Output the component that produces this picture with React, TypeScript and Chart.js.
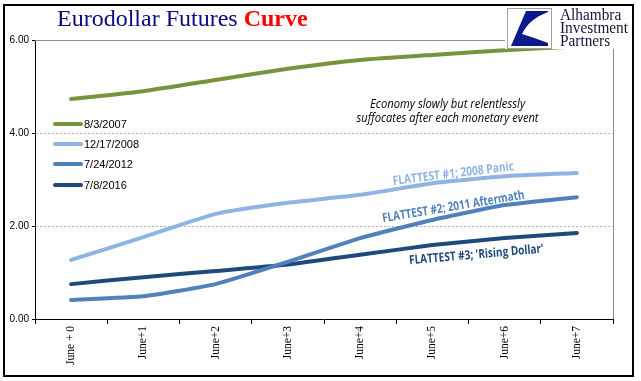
import React, { useEffect, useRef } from "react";
import { Chart, registerables } from "chart.js";

Chart.register(...registerables);

const categories = ["June + 0", "June+1", "June+2", "June+3", "June+4", "June+5", "June+6", "June+7"];
const seriesNames = ["8/3/2007", "12/17/2008", "7/24/2012", "7/8/2016"];
const s2007 = [4.73, 4.9, 5.14, 5.38, 5.57, 5.68, 5.78, 5.86];
const s2008 = [1.27, 1.76, 2.26, 2.5, 2.67, 2.92, 3.07, 3.14];
const s2012 = [0.41, 0.49, 0.75, 1.23, 1.74, 2.13, 2.45, 2.62];
const s2016 = [0.75, 0.9, 1.03, 1.17, 1.38, 1.59, 1.74, 1.85];
const seriesColors = ["#77933C", "#8EB4E3", "#4F81BD", "#1F497D"];
const yTicks = [0, 2, 4, 6];

const noteLines = [
  { text: "Economy slowly but relentlessly", y: 4.62, w: 155 },
  { text: "suffocates after each monetary event", y: 4.3, w: 182 },
];
const flatLabels = [
  { text: "FLATTEST #1; 2008 Panic", color: "#8EB4E3", x: 5.29, y: 3.12, angle: -7, w: 122 },
  { text: "FLATTEST #2; 2011 Aftermath", color: "#4F81BD", x: 5.29, y: 2.41, angle: -9.5, w: 144 },
  { text: "FLATTEST #3; 'Rising Dollar'", color: "#1F497D", x: 5.61, y: 1.38, angle: -5, w: 135 },
];

function fitText(ctx: any, text: string, x: number, y: number, angle: number, w: number) {
  const m = ctx.measureText(text).width;
  ctx.save();
  ctx.translate(x, y);
  ctx.rotate((angle * Math.PI) / 180);
  ctx.scale(w / m, 1);
  ctx.fillText(text, 0, 0);
  ctx.restore();
}

const decorPlugin = {
  id: "decor",
  beforeDatasetsDraw(chart: any) {
    const { ctx, chartArea } = chart;
    ctx.save();
    ctx.strokeStyle = "#8c8c8c";
    ctx.lineWidth = 1;
    ctx.beginPath();
    ctx.moveTo(chartArea.left, chartArea.top + 0.5);
    ctx.lineTo(chartArea.right + 0.5, chartArea.top + 0.5);
    ctx.lineTo(chartArea.right + 0.5, chartArea.bottom);
    ctx.stroke();
    ctx.restore();
  },
  afterDatasetsDraw(chart: any) {
    const { ctx, chartArea, scales } = chart;
    const xs = scales.x;
    const ys = scales.y;
    ctx.save();
    // legend
    const rowY = [84, 104, 124, 145];
    chart.data.datasets.forEach((ds: any, i: number) => {
      const y = chartArea.top + rowY[i];
      const x0 = chartArea.left + 20;
      ctx.strokeStyle = ds.borderColor;
      ctx.lineWidth = 4;
      ctx.lineCap = "round";
      ctx.beginPath();
      ctx.moveTo(x0, y);
      ctx.lineTo(x0 + 26, y);
      ctx.stroke();
      ctx.fillStyle = "#000";
      ctx.font = "11px 'Liberation Sans', Arial, sans-serif";
      ctx.textAlign = "left";
      ctx.textBaseline = "middle";
      ctx.fillText(ds.label, x0 + 29, y + 0.5);
    });
    // note
    ctx.font = "italic 12px 'Open Sans', sans-serif";
    ctx.fillStyle = "#000";
    ctx.textAlign = "center";
    ctx.textBaseline = "middle";
    const nx = xs.getPixelForValue(5.21);
    noteLines.forEach((n) => fitText(ctx, n.text, nx, ys.getPixelForValue(n.y), 0, n.w));
    // flattest labels
    ctx.font = "bold 12.5px 'Open Sans', sans-serif";
    flatLabels.forEach((l) => {
      ctx.fillStyle = l.color;
      fitText(ctx, l.text, xs.getPixelForValue(l.x), ys.getPixelForValue(l.y), l.angle, l.w);
    });
    ctx.restore();
  },
};

export default function App() {
  const ref = useRef<HTMLCanvasElement>(null);
  useEffect(() => {
    document.body.style.margin = "0";
    const series = [s2007, s2008, s2012, s2016];
    const chart = new Chart(ref.current as HTMLCanvasElement, {
      type: "line",
      data: {
        labels: categories,
        datasets: series.map((d, i) => ({
          label: seriesNames[i],
          data: d,
          borderColor: seriesColors[i],
          backgroundColor: seriesColors[i],
          borderWidth: 4,
          pointRadius: 0,
          tension: 0.15,
          borderCapStyle: "round" as const,
          borderJoinStyle: "round" as const,
        })),
      },
      options: {
        animation: false,
        responsive: false,
        maintainAspectRatio: false,
        layout: { padding: { left: 0, right: 28, top: 40, bottom: 0 } },
        plugins: { legend: { display: false }, tooltip: { enabled: false } },
        scales: {
          x: {
            type: "category",
            offset: true,
            grid: { offset: true, drawOnChartArea: false, drawTicks: true, tickLength: 5, tickColor: "#000" },
            border: { color: "#000", width: 1 },
            ticks: {
              minRotation: 90,
              maxRotation: 90,
              autoSkip: false,
              color: "#000",
              padding: 2,
              font: { family: "'Liberation Serif', 'Times New Roman', serif", size: 11.5 },
            },
            afterFit: (s: any) => {
              s.height = 62;
            },
          },
          y: {
            min: 0,
            max: 6,
            afterBuildTicks: (s: any) => {
              s.ticks = yTicks.map((v) => ({ value: v }));
            },
            ticks: {
              color: "#000",
              padding: 3,
              callback: (v: any) => Number(v).toFixed(2),
              font: { family: "'Liberation Sans', Arial, sans-serif", size: 10 },
            },
            grid: {
              color: (c: any) => (c.tick && (c.tick.value === 0 || c.tick.value === 6) ? "rgba(0,0,0,0)" : "#b4b4b4"),
              tickColor: "#000",
              tickLength: 3,
              tickBorderDash: [],
              lineWidth: 1,
            },
            border: { color: "#000", width: 1, dash: [2, 2] },
            afterFit: (s: any) => {
              s.width = 35;
            },
          },
        },
      },
      plugins: [decorPlugin],
    });
    return () => chart.destroy();
  }, []);

  return (
    <div style={{ position: "relative", width: 641, height: 381, background: "#fff", overflow: "hidden" }}>
      <canvas ref={ref} width={641} height={381} style={{ position: "absolute", left: 0, top: 0, width: 641, height: 381 }} />
      <div
        style={{
          position: "absolute",
          left: 57,
          top: 3,
          fontFamily: "'Liberation Serif', 'Times New Roman', serif",
          fontSize: 24,
          lineHeight: "30px",
          color: "#0b0b7f",
          whiteSpace: "nowrap",
        }}
      >
        Eurodollar Futures <span style={{ color: "#ff0000", fontWeight: "bold" }}>Curve</span>
      </div>
      <div style={{ position: "absolute", left: 505, top: 5, width: 127, height: 44, background: "#fff" }}>
        <svg width={127} height={44} style={{ position: "absolute", left: 0, top: 0 }}>
          <rect x={2.5} y={3.5} width={44} height={40} fill="#fff" stroke="#a0a0a0" strokeWidth={1} />
          <path d="M21,6 L43,6 L43,41 L6,41 Z" fill="#0a1a8c" />
          <path d="M43,7 Q24,14 17,29 Q30,33 43,38 Z" fill="#fff" />
        </svg>
        <div
          style={{
            position: "absolute",
            left: 55,
            top: 3,
            fontFamily: "'Liberation Serif', 'Times New Roman', serif",
            fontSize: 17,
            lineHeight: "13px",
            color: "#14143c",
            whiteSpace: "nowrap",
            transform: "scaleX(0.9)",
            transformOrigin: "0 0",
          }}
        >
          Alhambra
          <br />
          Investment
          <br />
          Partners
        </div>
      </div>
      <div
        style={{
          position: "absolute",
          left: 3,
          top: 4,
          width: 627,
          height: 369,
          border: "2px solid #000",
          pointerEvents: "none",
        }}
      />
    </div>
  );
}
